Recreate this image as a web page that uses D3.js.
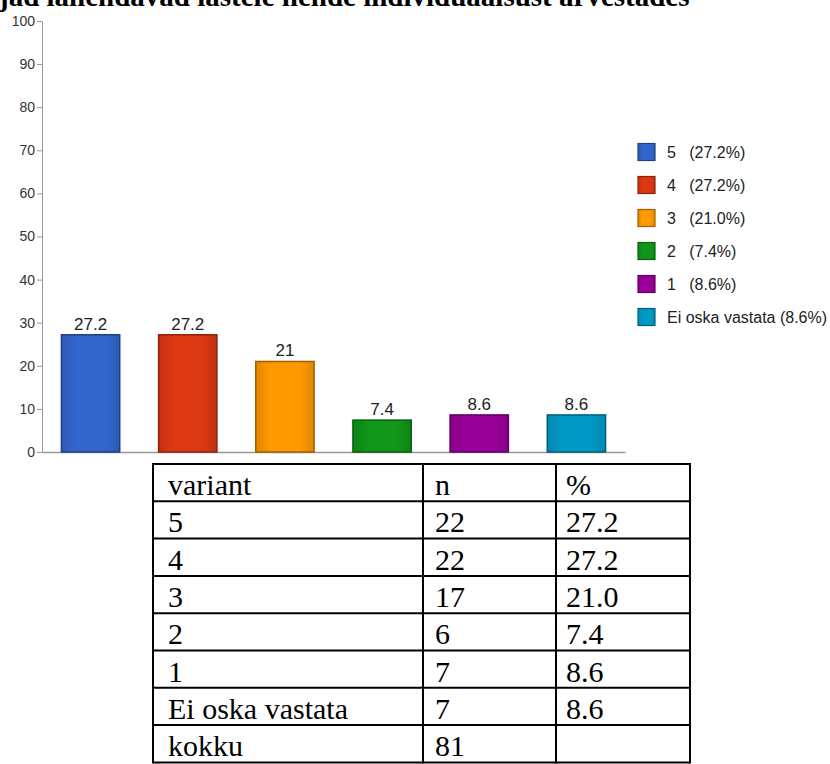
<!DOCTYPE html>
<html>
<head>
<meta charset="utf-8">
<script src="https://cdn.jsdelivr.net/npm/d3@7"></script>
<style>
  body { margin: 0; background: #fff; }
  svg { display: block; }
</style>
</head>
<body>
<svg id="chart"></svg>
<script>
var width = 830;
var height = 764;

// data
var title = "jad lahendavad lastele hende individuaalsust arvestades";
var categories = ["5", "4", "3", "2", "1", "Ei oska vastata"];
var percents = [27.2, 27.2, 21.0, 7.4, 8.6, 8.6];
var counts = [22, 22, 17, 6, 7, 7];
var total = 81;
var totalLabel = "kokku";
var tableHeader = ["variant", "n", "%"];
var yTicks = [0, 10, 20, 30, 40, 50, 60, 70, 80, 90, 100];
var colors = ["#3366cc", "#dc3912", "#ff9900", "#109618", "#990099", "#0099c6"];

var svg = d3.select("#chart")
    .attr("width", width)
    .attr("height", height);

var xScale = d3.scaleBand()
    .domain(categories)
    .range([42, 625])
    .paddingInner(0.4)
    .paddingOuter(0.2);

var yScale = d3.scaleLinear()
    .domain([0, 100])
    .range([452, 21]);

var colorScale = d3.scaleOrdinal()
    .domain(categories)
    .range(colors);

// slight bevel on the bars: darker at the sides
var defs = svg.append("defs");
var grads = defs.selectAll("linearGradient")
  .data(categories)
  .enter()
  .append("linearGradient")
    .attr("id", (d, i) => "g" + i)
    .attr("x1", "0%").attr("x2", "100%")
    .attr("y1", "0%").attr("y2", "0%");
grads.append("stop").attr("offset", "0%").attr("stop-color", d => d3.color(colorScale(d)).darker(0.35));
grads.append("stop").attr("offset", "25%").attr("stop-color", d => colorScale(d));
grads.append("stop").attr("offset", "75%").attr("stop-color", d => colorScale(d));
grads.append("stop").attr("offset", "100%").attr("stop-color", d => d3.color(colorScale(d)).darker(0.35));

// title (top of it is cut off by the page edge, as in the source)
svg.append("text")
    .attr("x", -1)
    .attr("y", 6)
    .attr("font-family", "Liberation Serif, Times New Roman, serif")
    .attr("font-weight", "bold")
    .attr("font-size", "29px")
    .attr("fill", "#000")
    .text(title);

// y axis
var yAxis = d3.axisLeft(yScale)
    .tickValues(yTicks)
    .tickSize(5)
    .tickSizeOuter(0)
    .tickPadding(2);

var gy = svg.append("g")
    .attr("transform", "translate(42,0)")
    .call(yAxis);
gy.select(".domain").attr("stroke", "#999");
gy.selectAll(".tick line").attr("stroke", "#999");
gy.selectAll(".tick text")
    .attr("fill", "#333")
    .attr("font-family", "Liberation Sans, Arial, sans-serif")
    .attr("font-size", "14px");

// x axis line only
var xAxis = d3.axisBottom(xScale)
    .tickSize(0)
    .tickFormat("");
var gx = svg.append("g")
    .attr("transform", "translate(0," + yScale(0) + ")")
    .call(xAxis);
gx.select(".domain").attr("stroke", "#999").attr("stroke-width", 1.5);

var data = categories.map((c, i) => ({ name: c, value: percents[i], n: counts[i], idx: i }));

// bars
svg.append("g")
  .selectAll("rect")
  .data(data)
  .enter()
  .append("rect")
    .attr("x", d => xScale(d.name))
    .attr("y", d => yScale(d.value))
    .attr("width", xScale.bandwidth())
    .attr("height", d => yScale(0) - yScale(d.value))
    .attr("fill", d => "url(#g" + d.idx + ")")
    .attr("stroke", d => d3.color(colorScale(d.name)).darker(1.3))
    .attr("stroke-width", 1.5);

// value labels
svg.append("g")
  .selectAll("text")
  .data(data)
  .enter()
  .append("text")
    .attr("x", d => xScale(d.name) + xScale.bandwidth() / 2)
    .attr("y", d => yScale(d.value) - 5)
    .attr("text-anchor", "middle")
    .attr("font-family", "Liberation Sans, Arial, sans-serif")
    .attr("font-size", "17px")
    .attr("fill", "#222")
    .text(d => d.value);

// legend
var legend = svg.append("g")
    .attr("transform", "translate(638,152)");

var items = legend.selectAll("g")
  .data(data)
  .enter()
  .append("g")
    .attr("transform", (d, i) => "translate(0," + i * 33 + ")");

items.append("rect")
    .attr("x", 0)
    .attr("y", -8.5)
    .attr("width", 17)
    .attr("height", 17)
    .attr("fill", d => "url(#g" + d.idx + ")")
    .attr("stroke", d => d3.color(colorScale(d.name)).darker(1.3))
    .attr("stroke-width", 1.2);

items.append("text")
    .attr("x", 29)
    .attr("y", 6)
    .style("white-space", "pre")
    .attr("font-family", "Liberation Sans, Arial, sans-serif")
    .attr("font-size", "16px")
    .attr("fill", "#222")
    .text(d => d.name + (d.name.length === 1 ? "   " : " ") + "(" + d.value.toFixed(1) + "%)");

// table under the chart
var rows = [tableHeader]
    .concat(data.map(d => [d.name, String(d.n), d.value.toFixed(1)]))
    .concat([[totalLabel, String(total), ""]]);

var colX = [153, 423, 556, 690];
var colPad = [15, 12, 10];
var rowTop = 464;
var rowH = 37.3;

var table = svg.append("g");

table.selectAll("line.h")
  .data(d3.range(rows.length + 1))
  .enter()
  .append("line")
    .attr("class", "h")
    .attr("x1", colX[0])
    .attr("x2", colX[3])
    .attr("y1", i => rowTop + i * rowH)
    .attr("y2", i => rowTop + i * rowH)
    .attr("stroke", "#000")
    .attr("stroke-width", 2);

table.selectAll("line.v")
  .data(colX)
  .enter()
  .append("line")
    .attr("class", "v")
    .attr("x1", d => d)
    .attr("x2", d => d)
    .attr("y1", rowTop - 1)
    .attr("y2", rowTop + rows.length * rowH + 1)
    .attr("stroke", "#000")
    .attr("stroke-width", 2);

var tRows = table.selectAll("g.row")
  .data(rows)
  .enter()
  .append("g")
    .attr("class", "row")
    .attr("transform", (d, i) => "translate(0," + (rowTop + i * rowH) + ")");

tRows.selectAll("text")
  .data(d => d)
  .enter()
  .append("text")
    .attr("x", (d, j) => colX[j] + colPad[j])
    .attr("y", 31)
    .attr("font-family", "Liberation Serif, Times New Roman, serif")
    .attr("font-size", "30px")
    .attr("fill", "#000")
    .text(d => d);
</script>
</body>
</html>
